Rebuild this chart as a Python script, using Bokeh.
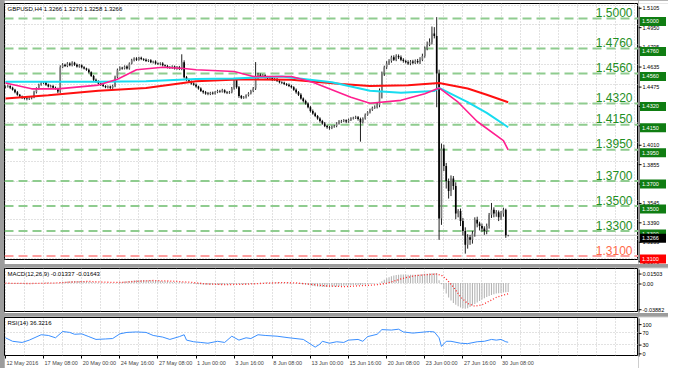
import numpy as np
from bokeh.plotting import figure
from bokeh.models import Range1d, FixedTicker, Span, Label, Spacer, Grid, LinearAxis
from bokeh.layouts import column, row
from bokeh.embed import file_html
from bokeh.resources import INLINE
from bokeh.core.properties import value

# ---------------- data ----------------
title_main = "GBPUSD,H4 1.3266 1.3270 1.3258 1.3266"
title_macd = "MACD(12,26,9) -0.01337 -0.01643"
title_rsi = "RSI(14) 36.3216"

x_label_bars = [0, 16, 32, 48, 64, 80, 96, 112, 128, 144, 160, 176, 192, 208]
x_labels = ["12 May 2016", "17 May 08:00", "20 May 00:00", "24 May 16:00", "27 May 08:00",
            "1 Jun 00:00", "3 Jun 16:00", "8 Jun 08:00", "13 Jun 00:00", "15 Jun 16:00",
            "20 Jun 08:00", "23 Jun 00:00", "27 Jun 16:00", "30 Jun 08:00"]

# closes in 1e-4 above 1.0000 (4455 -> 1.4455)
first_open = 4450
close_pips = [
    4455, 4460, 4445, 4430, 4410, 4390, 4375, 4365, 4360, 4355,
    4362, 4370, 4410, 4440, 4470, 4485, 4490, 4470, 4455, 4460,
    4445, 4440, 4415, 4610, 4630, 4620, 4640, 4625, 4645, 4630,
    4615, 4625, 4610, 4600, 4590, 4570, 4540, 4510, 4495, 4480,
    4470, 4460, 4450, 4455, 4445, 4460, 4530, 4590, 4605, 4600,
    4615, 4600, 4640, 4665, 4680, 4670, 4685, 4675, 4670, 4660,
    4665, 4650, 4655, 4640, 4635, 4640, 4625, 4620, 4610, 4605,
    4615, 4600, 4610, 4595, 4650, 4530, 4510, 4495, 4480, 4470,
    4455, 4440, 4420, 4410, 4400, 4395, 4405, 4400, 4410, 4420,
    4415, 4425, 4410, 4405, 4410, 4440, 4510, 4450, 4380, 4365,
    4370, 4385, 4400, 4420, 4440, 4520, 4550, 4540, 4545, 4530,
    4520, 4525, 4510, 4515, 4500, 4490, 4485, 4475, 4470, 4460,
    4450, 4430, 4410, 4390, 4360, 4340, 4320, 4290, 4260, 4240,
    4220, 4200, 4180, 4160, 4140, 4130, 4125, 4135, 4140, 4160,
    4175, 4180, 4185, 4175, 4190, 4200, 4205, 4210, 4195, 4170,
    4200, 4230, 4250, 4270, 4285, 4290, 4305, 4420, 4560, 4610,
    4640, 4660, 4690, 4670, 4700, 4690, 4670, 4660, 4650, 4640,
    4655, 4645, 4660, 4650, 4670, 4700, 4760, 4790, 4810, 4880,
    4860, 4560, 3400, 3960, 3820, 3700, 3620, 3720, 3660, 3440,
    3460, 3380, 3300, 3190, 3250, 3230, 3280, 3390, 3360, 3340,
    3320, 3300, 3340, 3430, 3470, 3440, 3450, 3410, 3440, 3470,
    3266, 3266]
up_wick = [
    8, 10, 6, 9, 7, 10, 6, 8, 7, 9,
    8, 10, 12, 9, 8, 10, 9, 7, 8, 9,
    8, 10, 6, 15, 12, 8, 10, 9, 12, 8,
    9, 10, 7, 8, 6, 9, 7, 8, 9, 10,
    7, 8, 6, 9, 8, 10, 12, 9, 11, 8,
    9, 10, 8, 12, 9, 10, 8, 9, 7, 10,
    8, 9, 7, 10, 8, 9, 10, 7, 8, 9,
    10, 8, 9, 10, 63, 15, 10, 8, 9, 8,
    10, 7, 9, 8, 10, 12, 8, 10, 9, 10,
    9, 12, 8, 9, 10, 12, 16, 14, 10, 8,
    9, 8, 10, 9, 12, 131, 15, 10, 9, 8,
    10, 9, 8, 10, 9, 8, 7, 9, 8, 10,
    9, 8, 10, 9, 12, 8, 10, 9, 10, 12,
    9, 8, 10, 9, 12, 8, 10, 9, 8, 10,
    12, 9, 10, 8, 9, 10, 9, 12, 10, 12,
    9, 10, 8, 9, 10, 15, 25, 20, 15, 12,
    18, 14, 12, 15, 13, 12, 14, 12, 10, 15,
    12, 14, 12, 16, 20, 18, 15, 25, 30, 55,
    50, 150, 30, 40, 30, 25, 20, 25, 20, 30,
    15, 20, 25, 30, 25, 20, 22, 20, 25, 15,
    20, 18, 20, 15, 55, 20, 18, 15, 20, 17,
    10, 4]
dn_wick = [
    9, 8, 10, 7, 9, 8, 10, 9, 8, 10,
    7, 9, 8, 10, 9, 8, 10, 9, 7, 8,
    9, 8, 12, 10, 8, 9, 10, 8, 9, 10,
    8, 9, 10, 8, 9, 10, 8, 12, 9, 8,
    10, 9, 8, 10, 9, 8, 10, 9, 8, 10,
    8, 9, 10, 8, 9, 10, 8, 9, 10, 8,
    9, 8, 10, 9, 8, 10, 9, 8, 10, 9,
    8, 9, 10, 8, 9, 10, 12, 9, 10, 8,
    9, 10, 8, 12, 10, 9, 8, 10, 9, 8,
    10, 8, 9, 10, 8, 9, 10, 12, 15, 10,
    8, 10, 9, 8, 10, 12, 10, 9, 8, 10,
    9, 8, 10, 9, 8, 10, 9, 8, 10, 9,
    10, 9, 12, 10, 9, 12, 10, 9, 12, 10,
    9, 10, 12, 10, 9, 12, 15, 10, 9, 10,
    9, 10, 8, 12, 9, 10, 8, 9, 12, 155,
    10, 9, 8, 10, 9, 8, 10, 15, 60, 20,
    15, 12, 14, 10, 12, 15, 12, 14, 10, 12,
    14, 12, 10, 12, 15, 12, 14, 15, 12, 18,
    20, 270, 170, 50, 40, 60, 60, 40, 30, 45,
    30, 40, 35, 70, 30, 40, 30, 25, 30, 35,
    25, 30, 25, 20, 25, 30, 25, 30, 20, 25,
    20, 8]

# moving averages (bar index, price)
ma_slow_x = [0, 18, 39, 59, 80, 100, 120, 141, 153, 169, 182, 194, 202, 211]
ma_slow_y = [1.4360, 1.4385, 1.4421, 1.4444, 1.4498, 1.4513, 1.4510, 1.4475, 1.4460, 1.4465,
             1.4483, 1.4440, 1.4390, 1.4330]
ma_mid_x = [0, 39, 59, 80, 96, 116, 137, 153, 166, 180, 182, 194, 202, 211]
ma_mid_y = [1.4493, 1.4493, 1.4498, 1.4515, 1.4520, 1.4536, 1.4490, 1.4421, 1.4406, 1.4420,
            1.4444, 1.4330, 1.4245, 1.4130]
ma_fast_x = [0, 11, 22, 39, 47, 55, 66, 75, 80, 96, 104, 120, 129, 137, 145, 153, 166, 176,
             182, 190, 198, 209, 211]
ma_fast_y = [1.4483, 1.4437, 1.4437, 1.4467, 1.4513, 1.4590, 1.4610, 1.4600, 1.4590, 1.4575,
             1.4536, 1.4536, 1.4490, 1.4430, 1.4370, 1.4322, 1.4345, 1.4398, 1.4444, 1.4330,
             1.4176, 1.4023, 1.3950]

price_levels = [1.5000, 1.4760, 1.4560, 1.4320, 1.4150, 1.3950, 1.3700, 1.3500, 1.3300]
support_level = 1.3100
bid_price = 1.3266
axis_prices = [1.5105, 1.4950, 1.4795, 1.4635, 1.4475, 1.4320, 1.4165, 1.4010, 1.3855,
               1.3700, 1.3545, 1.3390, 1.3235, 1.3079]

# MACD main histogram (1e-4 units) per bar
macd_hist = [
    -5, -6, -8, -9, -10, -11, -12, -12, -11, -10,
    -9, -8, -6, -3, 0, 3, 5, 6, 6, 5,
    4, 3, 2, 10, 16, 20, 24, 28, 30, 31,
    31, 30, 29, 27, 24, 20, 16, 12, 9, 7,
    5, 3, 1, 0, -1, -1, 0, 6, 12, 17,
    22, 26, 30, 34, 38, 41, 43, 44, 44, 43,
    42, 40, 38, 36, 34, 31, 28, 25, 22, 19,
    16, 14, 13, 11, 13, 8, 3, -2, -6, -10,
    -14, -18, -22, -25, -27, -28, -28, -28, -27, -26,
    -25, -23, -22, -21, -20, -15, -10, -12, -16, -19,
    -20, -19, -17, -14, -11, -4, 0, 3, 5, 6,
    7, 8, 9, 9, 9, 8, 7, 6, 5, 4,
    2, 0, -3, -7, -12, -18, -24, -30, -38, -45,
    -50, -54, -57, -59, -60, -60, -58, -56, -54, -51,
    -48, -45, -42, -39, -36, -34, -32, -31, -32, -30,
    -26, -21, -16, -11, -7, -4, -1, 5, 25, 48,
    70, 88, 102, 112, 120, 125, 128, 128, 127, 125,
    124, 123, 124, 126, 130, 134, 138, 141, 144, 146,
    148, 150, 40, -20, -90, -160, -220, -265, -300, -330,
    -350, -368, -380, -388, -380, -362, -340, -318, -295, -272,
    -250, -230, -212, -196, -180, -170, -160, -155, -150, -145,
    -140, -134]
macd_ticks = [0.01503, 0.0, -0.03882]
macd_tick_labels = ["0.01503", "0.00", "-0.03882"]
sig_x = [0, 10, 20, 28, 35, 42, 48, 55, 62, 70, 78, 85, 92, 100, 108, 116, 122, 128, 135, 142,
         150, 156, 160, 164, 168, 172, 176, 181, 183, 185, 188, 191, 194, 197, 200, 203, 206,
         209, 211]
sig_y = [-3, -8, -2, 15, 24, 12, 8, 25, 38, 28, 10, -15, -24, -20, -5, 6, 2, -20, -45, -55,
         -40, -25, -5, 40, 80, 110, 124, 135, 118, 60, -60, -210, -310, -350, -330, -275, -218,
         -180, -164]

rsi_x = [0, 3, 7, 10, 15, 18, 21, 24, 27, 29, 32, 35, 38, 42, 45, 48, 51, 55, 59, 62, 66, 69,
         73, 75, 76, 79, 82, 85, 89, 92, 95, 98, 101, 103, 106, 109, 114, 119, 125, 127, 130,
         132, 133, 136, 139, 142, 144, 148, 150, 152, 156, 158, 162, 165, 167, 171, 174, 178,
         180, 182, 183, 185, 187, 191, 194, 198, 201, 204, 206, 208, 210, 211]
rsi_y = [51.6, 39.6, 35.6, 43.6, 62, 59.6, 51.6, 73, 70, 63.6, 65, 55.6, 46, 47.6, 49, 65, 70,
         71.6, 70, 59.6, 54, 46, 55.6, 62, 43.6, 38, 35.6, 33, 39.6, 35.6, 57, 43.6, 51.6, 49,
         62, 59.6, 57, 51.6, 46, 35.6, 19.6, 30, 39.6, 33, 38, 35.6, 43.6, 46, 39.6, 55.6,
         63.6, 79.6, 78, 81, 71.6, 67.6, 70, 73, 71.6, 51.6, 22, 39.6, 39.6, 33, 31.6, 38,
         39.6, 46, 43.6, 46, 38, 36.3]
rsi_ticks = [100, 70, 30, 0]
rsi_levels = [70, 30]

# ---------------- derived ----------------
close = 1.0 + np.array(close_pips) / 1e4
openp = np.concatenate([[1.0 + first_open / 1e4], close[:-1]])
high = np.maximum(openp, close) + np.array(up_wick) / 1e4
low = np.minimum(openp, close) - np.array(dn_wick) / 1e4
bars = np.arange(len(close))
up = close >= openp

FONT = "Liberation Sans"
GRID = "#c4c4c4"
FW = 634
SIDE_W = 30
X0, X1 = -0.4, 265.7
BPP = (X1 - X0) / FW
grid_bars = list(range(0, 266, 8))

MAIN_FH = 256
MAIN_Y = (1.3073, 1.5119)
MACD_FH = 43
MACD_Y = (-0.0430, 0.0219)
RSI_FH = 38
RSI_Y = (-9, 121)


def upp(fh, yr):
    return (yr[1] - yr[0]) / fh


def panel(fh, yr, top, bottom, xaxis, yticks):
    p = figure(frame_width=FW, frame_height=fh, x_range=Range1d(X0, X1),
               y_range=Range1d(*yr), output_backend="svg", toolbar_location=None,
               x_axis_location="below" if xaxis else None, y_axis_location=None,
               min_border_left=0, min_border_right=0, min_border_top=top,
               min_border_bottom=bottom, background_fill_color="white",
               border_fill_color="white", outline_line_color="black",
               outline_line_width=1)
    p.grid.visible = False
    p.add_layout(Grid(dimension=0, ticker=FixedTicker(ticks=grid_bars),
                      grid_line_color=GRID, grid_line_dash="1 2", grid_line_width=1))
    p.add_layout(Grid(dimension=1, ticker=FixedTicker(ticks=yticks),
                      grid_line_color=GRID, grid_line_dash="1 2", grid_line_width=1))
    return p


def side(fh, yr, top, bottom, ticks, labels, boxes=()):
    U = upp(fh, yr)
    s = figure(frame_width=SIDE_W, frame_height=fh + top + bottom, x_range=Range1d(0, SIDE_W),
               y_range=Range1d(yr[0] - bottom * U, yr[1] + top * U), output_backend="svg",
               toolbar_location=None, x_axis_location=None, y_axis_location=None,
               min_border_left=0, min_border_right=0, min_border_top=0,
               min_border_bottom=0, background_fill_color="white",
               border_fill_color="white", outline_line_color=None)
    s.grid.visible = False
    s.segment(x0=0.5, y0=yr[0], x1=0.5, y1=yr[1], line_color="black", line_width=1)
    s.segment(x0=0, y0=ticks, x1=3, y1=ticks, line_color="black", line_width=1)
    s.text(x=4, y=ticks, text=labels, text_font=value(FONT), text_font_size="5.5px",
           text_color="black", text_align="left", text_baseline="middle")
    for lvl, txt, bg in boxes:
        s.quad(left=1.5, right=27.5, bottom=lvl - 4.5 * U, top=lvl + 4.5 * U,
               fill_color=bg, line_color=None)
        s.text(x=[3.5], y=[lvl], text=[txt], text_font=value(FONT), text_font_size="5.5px",
               text_color="white", text_align="left", text_baseline="middle")
    return s


def corner_title(p, yr, fh, txt):
    p.add_layout(Label(x=X0 + 3 * BPP, y=yr[1] - 2 * upp(fh, yr), text=txt,
                       text_font=FONT, text_font_size="6px", text_color="black",
                       text_align="left", text_baseline="top"))


# ---------------- main price panel ----------------
pm = panel(MAIN_FH, MAIN_Y, 3, 5, False, axis_prices)
U = upp(MAIN_FH, MAIN_Y)

for lvl in price_levels:
    pm.add_layout(Span(location=lvl, dimension="width", line_color="#8fcc8f",
                       line_width=2, line_dash="9 5", level="underlay"))
pm.add_layout(Span(location=support_level, dimension="width", line_color="#ffa0a0",
                   line_width=2, line_dash="9 5", level="underlay"))
pm.add_layout(Span(location=bid_price, dimension="width", line_color="#c8c8c8",
                   line_width=1, level="underlay"))

all_lvls = price_levels + [support_level]
pm.text(x=[X1 - 6 * BPP] * len(all_lvls), y=[l + 1.5 * U for l in all_lvls],
        text=[f"{l:.4f}" for l in all_lvls],
        text_color=["#1f8f1f"] * len(price_levels) + ["#ff6a4a"],
        text_font=value(FONT), text_font_size="12px", text_align="right",
        text_baseline="bottom")

# candles
pm.segment(x0=bars, y0=low, x1=bars, y1=high, line_color="#202020", line_width=1)
pm.vbar(x=bars[up], bottom=openp[up], top=close[up], width=0.7,
        fill_color="#7a7a7a", line_color=None)
pm.vbar(x=bars[~up], bottom=close[~up], top=openp[~up], width=0.7,
        fill_color="black", line_color=None)

pm.line(ma_slow_x, ma_slow_y, line_color="#ff1010", line_width=2)
pm.line(ma_mid_x, ma_mid_y, line_color="#18dcf0", line_width=2)
pm.line(ma_fast_x, ma_fast_y, line_color="#ff1f8f", line_width=1.6)

corner_title(pm, MAIN_Y, MAIN_FH, title_main)

boxes = [(l, f"{l:.4f}", "#0f7d12") for l in price_levels]
boxes += [(support_level, f"{support_level:.4f}", "#ff0000"),
          (bid_price, f"{bid_price:.4f}", "black")]
sm = side(MAIN_FH, MAIN_Y, 3, 5, axis_prices, [f"{t:.4f}" for t in axis_prices], boxes)

# ---------------- MACD panel ----------------
pc = panel(MACD_FH, MACD_Y, 1, 2, False, [0.0])
pc.vbar(x=bars, bottom=0, top=np.array(macd_hist) / 1e4, width=0.45,
        fill_color="#b4b4b4", line_color=None)
pc.line(sig_x, np.array(sig_y) / 1e4, line_color="#ff2a2a", line_width=1.3,
        line_dash="1 2")
corner_title(pc, MACD_Y, MACD_FH, title_macd)
sc = side(MACD_FH, MACD_Y, 1, 2, macd_ticks, macd_tick_labels)

# ---------------- RSI panel ----------------
pr = panel(RSI_FH, RSI_Y, 1, 13, True, rsi_levels)
xa = pr.xaxis[0]
xa.ticker = FixedTicker(ticks=x_label_bars)
xa.major_label_overrides = {b: "" for b in x_label_bars}
xa.major_label_text_font_size = "0px"
xa.major_label_standoff = 0
xa.axis_line_color = None
xa.major_tick_line_color = "black"
xa.major_tick_in = 0
xa.major_tick_out = 3
xa.minor_tick_line_color = None

# second axis: left-aligned date labels (MT4 style) -> centre each label half its width right
CW = {c: 0.556 for c in "0123456789"}
CW.update({" ": 0.278, ":": 0.278, "M": 0.833, "a": 0.556, "y": 0.5, "J": 0.5, "u": 0.556,
           "n": 0.556})
XFS = 5.5
label_pos = [b + 0.5 * XFS * sum(CW.get(c, 0.556) for c in t) * BPP + 1 * BPP
             for b, t in zip(x_label_bars, x_labels)]
xb = LinearAxis(ticker=FixedTicker(ticks=label_pos),
                major_label_overrides={p_: t for p_, t in zip(label_pos, x_labels)},
                axis_line_color=None, major_tick_line_color=None, major_tick_in=0,
                major_tick_out=0, minor_tick_line_color=None,
                major_label_text_font=FONT, major_label_text_font_size=f"{XFS}px",
                major_label_standoff=1)
pr.add_layout(xb, "below")
pr.line(rsi_x, rsi_y, line_color="#3a8fff", line_width=1)
corner_title(pr, RSI_Y, RSI_FH, title_rsi)
sr = side(RSI_FH, RSI_Y, 1, 13, rsi_ticks, [str(t) for t in rsi_ticks])

col = column(row(pm, sm), row(pc, sc), row(pr, sr), spacing=3,
             styles={"background-color": "#9c9c9c"})
layout = row(Spacer(width=4, height=368, styles={"background-color": "#9c9c9c"}), col)

open("out.html", "w").write(file_html(layout, INLINE))
